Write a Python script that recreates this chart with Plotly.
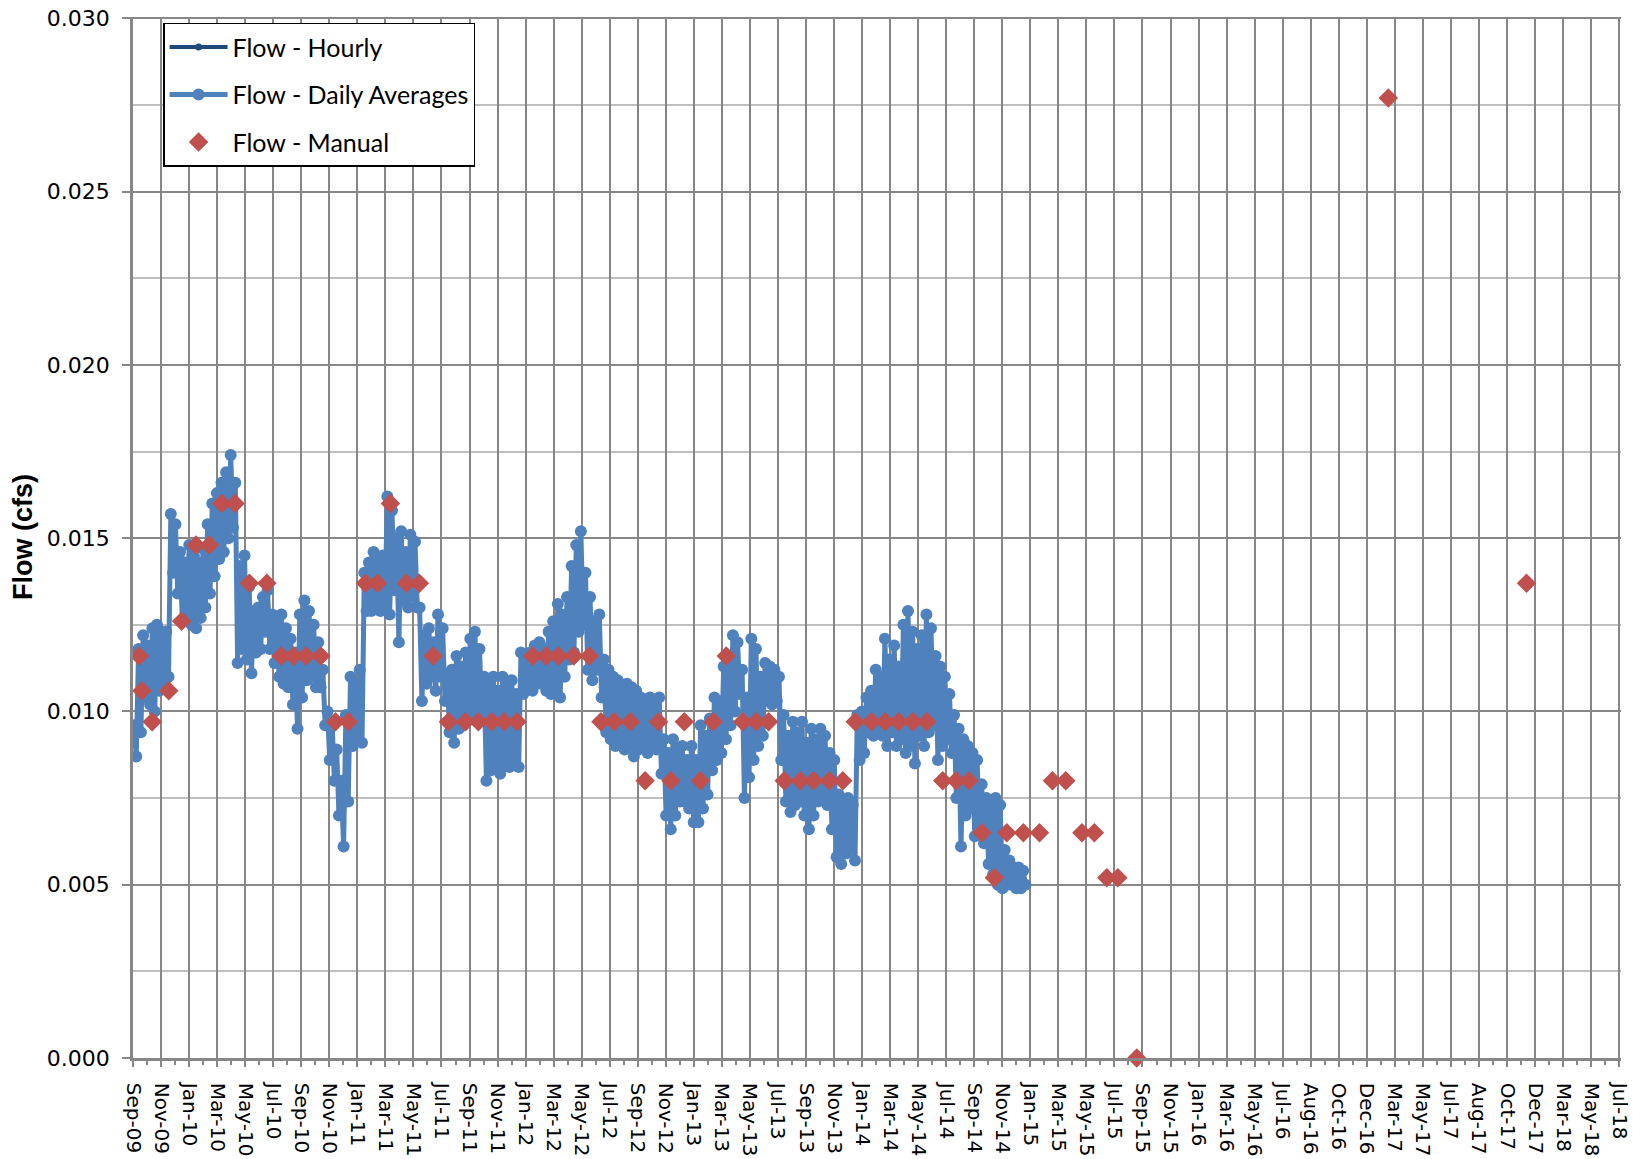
import plotly.graph_objects as go
import pandas as pd

# ---------------- data ----------------
tick_labels = ["Sep-09", "Nov-09", "Jan-10", "Mar-10", "May-10", "Jul-10", "Sep-10", "Nov-10",
               "Jan-11", "Mar-11", "May-11", "Jul-11", "Sep-11", "Nov-11", "Jan-12", "Mar-12",
               "May-12", "Jul-12", "Sep-12", "Nov-12", "Jan-13", "Mar-13", "May-13", "Jul-13",
               "Sep-13", "Nov-13", "Jan-14", "Mar-14", "May-14", "Jul-14", "Sep-14", "Nov-14",
               "Jan-15", "Mar-15", "May-15", "Jul-15", "Sep-15", "Nov-15", "Jan-16", "Mar-16",
               "May-16", "Jul-16", "Aug-16", "Oct-16", "Dec-16", "Mar-17", "May-17", "Jul-17",
               "Aug-17", "Oct-17", "Dec-17", "Mar-18", "May-18", "Jul-18"]
axis_start = pd.Timestamp("2009-09-01 12:00")
tick_step_days = 60.86
y_tickvals = [0.000, 0.005, 0.010, 0.015, 0.020, 0.025, 0.030]

# Daily averages: for each 10-day window starting 2009-09-01, the high and low daily value
daily_window_start = pd.Timestamp("2009-09-01")
daily_high = [
    0.0096, 0.0118, 0.0122, 0.0119, 0.0124, 0.0125, 0.0123, 0.0123, 0.0157, 0.0154,
    0.0146, 0.0143, 0.0148, 0.0145, 0.0143, 0.0147, 0.0154, 0.0160, 0.0163, 0.0166,
    0.0169, 0.0174, 0.0166, 0.0142, 0.0145, 0.0136, 0.0129, 0.0130, 0.0133, 0.0135,
    0.0128, 0.0126, 0.0128, 0.0124, 0.0121, 0.0117, 0.0128, 0.0132, 0.0129, 0.0125,
    0.0120, 0.0112, 0.0100, 0.0097, 0.0089, 0.0080, 0.0099, 0.0110, 0.0108, 0.0112,
    0.0140, 0.0143, 0.0146, 0.0144, 0.0145, 0.0162, 0.0158, 0.0150, 0.0152, 0.0146,
    0.0151, 0.0149, 0.0130, 0.0122, 0.0124, 0.0120, 0.0128, 0.0124, 0.0110, 0.0112,
    0.0116, 0.0113, 0.0117, 0.0121, 0.0123, 0.0118, 0.0110, 0.0108, 0.0110, 0.0106,
    0.0110, 0.0108, 0.0109, 0.0105, 0.0117, 0.0116, 0.0117, 0.0119, 0.0120, 0.0118,
    0.0123, 0.0126, 0.0131, 0.0128, 0.0133, 0.0142, 0.0148, 0.0152, 0.0140, 0.0133,
    0.0126, 0.0128, 0.0115, 0.0112, 0.0110, 0.0109, 0.0106, 0.0108, 0.0107, 0.0106,
    0.0104, 0.0102, 0.0104, 0.0103, 0.0104, 0.0092, 0.0088, 0.0092, 0.0089, 0.0090,
    0.0086, 0.0090, 0.0086, 0.0096, 0.0093, 0.0098, 0.0104, 0.0103, 0.0113, 0.0116,
    0.0122, 0.0120, 0.0112, 0.0104, 0.0121, 0.0118, 0.0110, 0.0114, 0.0113, 0.0112,
    0.0110, 0.0099, 0.0093, 0.0097, 0.0094, 0.0097, 0.0091, 0.0095, 0.0092, 0.0095,
    0.0093, 0.0088, 0.0086, 0.0076, 0.0074, 0.0075, 0.0073, 0.0099, 0.0100, 0.0104,
    0.0106, 0.0112, 0.0110, 0.0121, 0.0115, 0.0119, 0.0113, 0.0125, 0.0129, 0.0123,
    0.0118, 0.0122, 0.0128, 0.0124, 0.0116, 0.0113, 0.0110, 0.0105, 0.0099, 0.0095,
    0.0092, 0.0090, 0.0088, 0.0086, 0.0079, 0.0075, 0.0073, 0.0075, 0.0073, 0.0060,
    0.0057, 0.0055, 0.0055, 0.0054,
]
daily_low = [
    0.0087, 0.0094, 0.0104, 0.0102, 0.0100, 0.0106, 0.0108, 0.0110, 0.0140, 0.0134,
    0.0126, 0.0128, 0.0125, 0.0124, 0.0127, 0.0130, 0.0134, 0.0139, 0.0144, 0.0146,
    0.0150, 0.0153, 0.0114, 0.0118, 0.0115, 0.0111, 0.0117, 0.0118, 0.0123, 0.0118,
    0.0114, 0.0110, 0.0108, 0.0107, 0.0102, 0.0095, 0.0104, 0.0109, 0.0110, 0.0107,
    0.0107, 0.0096, 0.0086, 0.0080, 0.0070, 0.0061, 0.0074, 0.0090, 0.0093, 0.0091,
    0.0129, 0.0129, 0.0130, 0.0129, 0.0131, 0.0128, 0.0135, 0.0120, 0.0132, 0.0130,
    0.0133, 0.0130, 0.0103, 0.0108, 0.0110, 0.0106, 0.0110, 0.0103, 0.0094, 0.0091,
    0.0095, 0.0096, 0.0098, 0.0098, 0.0100, 0.0098, 0.0080, 0.0083, 0.0084, 0.0082,
    0.0085, 0.0084, 0.0085, 0.0084, 0.0105, 0.0107, 0.0106, 0.0108, 0.0108, 0.0106,
    0.0105, 0.0106, 0.0104, 0.0110, 0.0115, 0.0117, 0.0123, 0.0125, 0.0112, 0.0109,
    0.0112, 0.0104, 0.0094, 0.0092, 0.0090, 0.0092, 0.0089, 0.0090, 0.0087, 0.0089,
    0.0090, 0.0088, 0.0090, 0.0089, 0.0082, 0.0070, 0.0066, 0.0070, 0.0074, 0.0074,
    0.0072, 0.0068, 0.0068, 0.0072, 0.0076, 0.0083, 0.0086, 0.0088, 0.0092, 0.0096,
    0.0100, 0.0105, 0.0075, 0.0081, 0.0086, 0.0090, 0.0093, 0.0103, 0.0102, 0.0103,
    0.0086, 0.0074, 0.0071, 0.0073, 0.0074, 0.0070, 0.0066, 0.0070, 0.0074, 0.0075,
    0.0073, 0.0066, 0.0058, 0.0056, 0.0059, 0.0060, 0.0057, 0.0086, 0.0088, 0.0094,
    0.0093, 0.0095, 0.0093, 0.0090, 0.0094, 0.0090, 0.0092, 0.0088, 0.0090, 0.0085,
    0.0093, 0.0090, 0.0094, 0.0096, 0.0086, 0.0090, 0.0092, 0.0088, 0.0075, 0.0061,
    0.0070, 0.0072, 0.0064, 0.0067, 0.0062, 0.0056, 0.0053, 0.0050, 0.0049, 0.0050,
    0.0050, 0.0049, 0.0049, 0.0050,
]

manual_dates = [
    "2009-09-15", "2009-09-21", "2009-10-13", "2009-11-18", "2009-12-16",
    "2010-01-16", "2010-02-14", "2010-03-13", "2010-04-11", "2010-05-12",
    "2010-06-19", "2010-07-20", "2010-08-16", "2010-09-12", "2010-10-14",
    "2010-11-15", "2010-12-13", "2011-01-19", "2011-02-14", "2011-03-14",
    "2011-04-18", "2011-05-16", "2011-06-15", "2011-07-18", "2011-08-24",
    "2011-09-21", "2011-10-20", "2011-11-16", "2011-12-14", "2012-01-17",
    "2012-02-15", "2012-03-13", "2012-04-15", "2012-05-19", "2012-06-13",
    "2012-07-12", "2012-08-16", "2012-09-17", "2012-10-16", "2012-11-12",
    "2012-12-11", "2013-01-15", "2013-02-12", "2013-03-12", "2013-04-17",
    "2013-05-16", "2013-06-12", "2013-07-16", "2013-08-20", "2013-09-18",
    "2013-10-22", "2013-11-20", "2013-12-17", "2014-01-21", "2014-02-20",
    "2014-03-21", "2014-04-21", "2014-05-21", "2014-06-25", "2014-07-24",
    "2014-08-21", "2014-09-18", "2014-10-15", "2014-11-11", "2014-12-17",
    "2015-01-21", "2015-02-18", "2015-03-19", "2015-04-23", "2015-05-20",
    "2015-06-16", "2015-07-10", "2015-08-20", "2017-02-16", "2017-12-13",
]
manual_flow = [
    0.0116, 0.0106, 0.0097, 0.0106, 0.0126,
    0.0148, 0.0148, 0.0160, 0.0160, 0.0137,
    0.0137, 0.0116, 0.0116, 0.0116, 0.0116,
    0.0097, 0.0097, 0.0137, 0.0137, 0.0160,
    0.0137, 0.0137, 0.0116, 0.0097, 0.0097,
    0.0097, 0.0097, 0.0097, 0.0097, 0.0116,
    0.0116, 0.0116, 0.0116, 0.0116, 0.0097,
    0.0097, 0.0097, 0.0080, 0.0097, 0.0080,
    0.0097, 0.0080, 0.0097, 0.0116, 0.0097,
    0.0097, 0.0097, 0.0080, 0.0080, 0.0080,
    0.0080, 0.0080, 0.0097, 0.0097, 0.0097,
    0.0097, 0.0097, 0.0097, 0.0080, 0.0080,
    0.0080, 0.0065, 0.0052, 0.0065, 0.0065,
    0.0065, 0.0080, 0.0080, 0.0065, 0.0065,
    0.0052, 0.0052, 0.0000, 0.0277, 0.0137,
]

# ---------------- build traces ----------------
daily_x, daily_y = [], []
for i, (hi, lo) in enumerate(zip(daily_high, daily_low)):
    w0 = daily_window_start + pd.Timedelta(days=10 * i)
    daily_x += [w0 + pd.Timedelta(days=2.5), w0 + pd.Timedelta(days=7.5)]
    daily_y += [hi, lo]

tickvals = [axis_start + pd.Timedelta(days=tick_step_days * k) for k in range(len(tick_labels))]
minor_vals = [axis_start + pd.Timedelta(days=tick_step_days * (k + 0.5)) for k in range(len(tick_labels) - 1)]
# small padding so that the boundary grid lines (which Plotly drops when within 1px of the edge) are drawn
x_range = [tickvals[0] - pd.Timedelta(hours=2), tickvals[-1] + pd.Timedelta(days=4)]
y_range = [0, y_tickvals[-1] * 1.0013]
y_minor = [(a + b) / 2 for a, b in zip(y_tickvals[:-1], y_tickvals[1:])]

BLUE = "#4F81BD"
RED = "#C0504D"
NAVY = "#1F497D"
GRID = "#878787"
MINOR = "#BFBFBF"

fig = go.Figure()
fig.add_trace(go.Scatter(
    x=[None], y=[None], name="Flow - Hourly", mode="lines+markers", legendgroup="a",
    line=dict(color=NAVY, width=4), marker=dict(color=NAVY, size=7),
))
fig.add_trace(go.Scatter(
    x=daily_x, y=daily_y, name="Flow - Daily Averages", mode="lines+markers", legendgroup="b",
    line=dict(color=BLUE, width=5), marker=dict(color=BLUE, size=12),
))
fig.add_trace(go.Scatter(
    x=manual_dates, y=manual_flow, name="Flow - Manual", mode="markers", legendgroup="c",
    marker=dict(color=RED, size=15, symbol="diamond"), cliponaxis=False,
))

fig.update_layout(
    width=1633, height=1159,
    margin=dict(l=133, r=12, t=17, b=101, autoexpand=False),
    paper_bgcolor="white", plot_bgcolor="white",
    showlegend=True,
    legend=dict(
        x=0.0202, y=0.9945, xanchor="left", yanchor="top",
        bgcolor="white", bordercolor="black", borderwidth=1.5,
        font=dict(family="Lato", size=25, color="black"),
        traceorder="grouped", tracegroupgap=12, itemwidth=58,
    ),
    annotations=[dict(
        text="<b>Flow (cfs)</b>", textangle=-90, showarrow=False,
        xref="paper", yref="paper", x=-0.0742, y=0.5, xanchor="center", yanchor="middle",
        font=dict(family="Liberation Sans", size=27, color="black"),
    )],
)

fig.update_xaxes(
    type="date", range=x_range, automargin=False, ticklabeloverflow="allow",
    tickmode="array", tickvals=tickvals, ticktext=tick_labels, tickangle=90,
    tickfont=dict(family="DejaVu Sans", size=20, color="black"),
    ticks="outside", ticklen=6, tickwidth=1.5, tickcolor=GRID,
    showgrid=True, gridcolor=GRID, gridwidth=1.5,
    showline=True, linecolor=GRID, linewidth=2.5,
    zeroline=False, ticklabelstandoff=12,
    minor=dict(tickvals=minor_vals, ticks="outside", ticklen=4, tickwidth=1.5,
               tickcolor=GRID, showgrid=False),
)
fig.update_yaxes(
    range=y_range, tickmode="array", tickvals=y_tickvals, tickformat=".3f",
    automargin=False, ticklabeloverflow="allow",
    tickfont=dict(family="DejaVu Sans", size=22, color="black"),
    ticks="outside", ticklen=8, tickwidth=1.5, tickcolor=GRID,
    showgrid=True, gridcolor=GRID, gridwidth=1.5,
    showline=True, linecolor=GRID, linewidth=2.5,
    zeroline=False, ticklabelstandoff=8,
    minor=dict(tickvals=y_minor, showgrid=True, gridcolor=MINOR, gridwidth=1.5, ticks=""),
)

# remove the browser's default body margin so the figure fills the window exactly
fig.write_html("out.html", config={"displayModeBar": False},
               post_script="document.body.style.margin='0px';")
